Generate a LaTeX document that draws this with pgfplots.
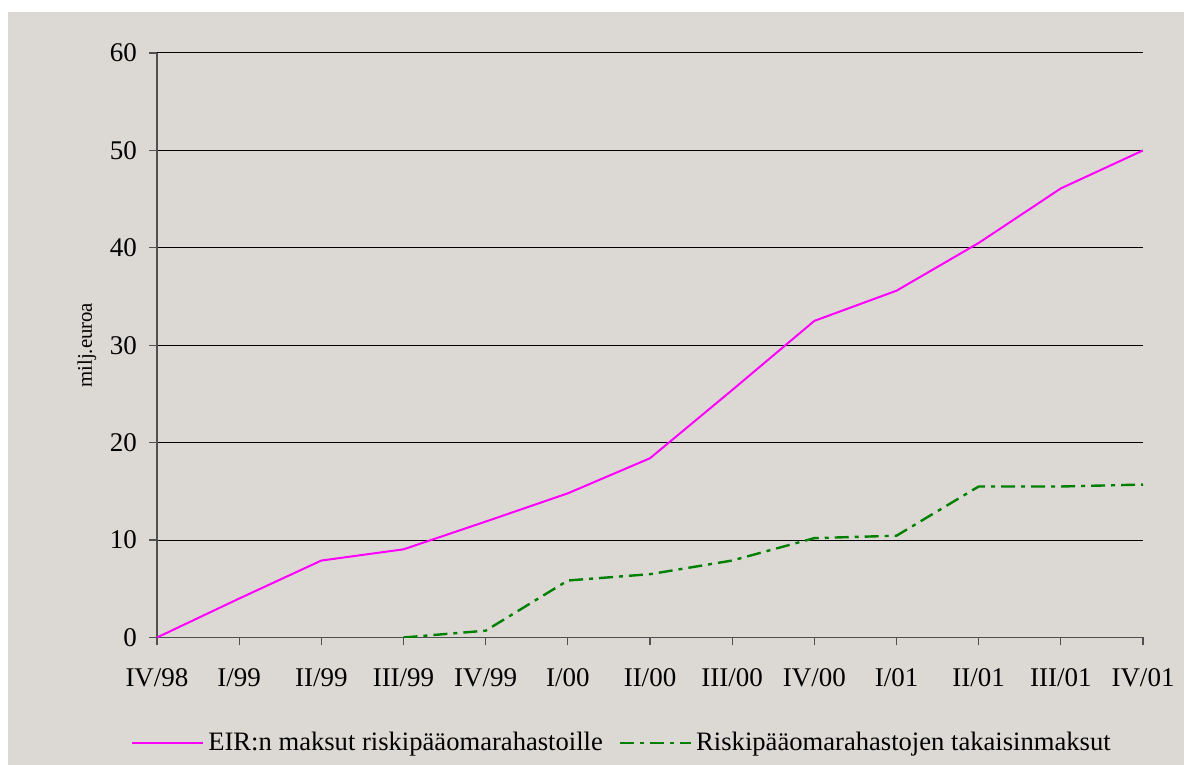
\documentclass[border=0pt]{standalone}
\usepackage{fontspec}
\setmainfont{Liberation Serif}
\usepackage{pgfplots}
\pgfplotsset{compat=1.18}
\definecolor{bgc}{RGB}{220,217,212}
\definecolor{axc}{RGB}{80,80,80}
\definecolor{grn}{RGB}{0,128,0}
\definecolor{mag}{RGB}{255,0,255}
\begin{document}
\begin{tikzpicture}
\fill[white] (0,0) rectangle (592pt,382.5pt);
\fill[bgc] (4pt,0) rectangle (592pt,376.5pt);
\begin{axis}[
  at={(78.5pt,63.75pt)}, anchor=south west,
  scale only axis, width=493pt, height=292.25pt,
  xmin=0, xmax=12, ymin=0, ymax=60,
  axis lines*=left,
  axis line style={axc, line width=0.6pt},
  xtick={0,...,12},
  xticklabels={IV/98,I/99,II/99,III/99,IV/99,I/00,II/00,III/00,IV/00,I/01,II/01,III/01,IV/01},
  ytick={0,10,...,60},
  ymajorgrids, major grid style={black, line width=0.5pt},
  tick align=outside, major tick length=4pt,
  tick style={axc, line width=0.6pt},
  ticklabel style={font=\fontsize{13.5}{16}\selectfont},
  xticklabel style={yshift=-8pt},
  yticklabel style={xshift=-2.5pt},
  /pgf/number format/assume math mode=true,
  ylabel={milj.euroa},
  ylabel style={font=\fontsize{10.4}{12}\selectfont, at={(axis description cs:-0.071,0.5)}, anchor=center},
  legend columns=2,
  legend cell align=left,
  legend style={at={(axis description cs:-0.0264,-0.1805)}, anchor=west, draw=none, fill=none, inner sep=0pt,
    font=\fontsize{13.3}{16}\selectfont,
    /tikz/every even column/.append style={column sep=6pt}},
  legend image code/.code={\draw[#1] (0pt,0pt) -- (35.5pt,0pt);},
]
\addplot[mag, line width=1pt] coordinates {
(0,0) (1,4.0) (2,7.9) (3,9.05) (4,11.9) (5,14.8) (6,18.4) (7,25.4) (8,32.5) (9,35.6) (10,40.5) (11,46.1) (12,50.0)};
\addplot[grn, line width=1.2pt, dash pattern=on 7pt off 3pt on 2pt off 3pt] coordinates {
(3,0) (4,0.7) (5,5.85) (6,6.5) (7,7.9) (8,10.2) (9,10.45) (10,15.5) (11,15.5) (12,15.7)};
\legend{EIR:n maksut riskipääomarahastoille, Riskipääomarahastojen takaisinmaksut}
\end{axis}
\pgfresetboundingbox
\useasboundingbox (0,0) rectangle (592pt,382.5pt);
\end{tikzpicture}
\end{document}
